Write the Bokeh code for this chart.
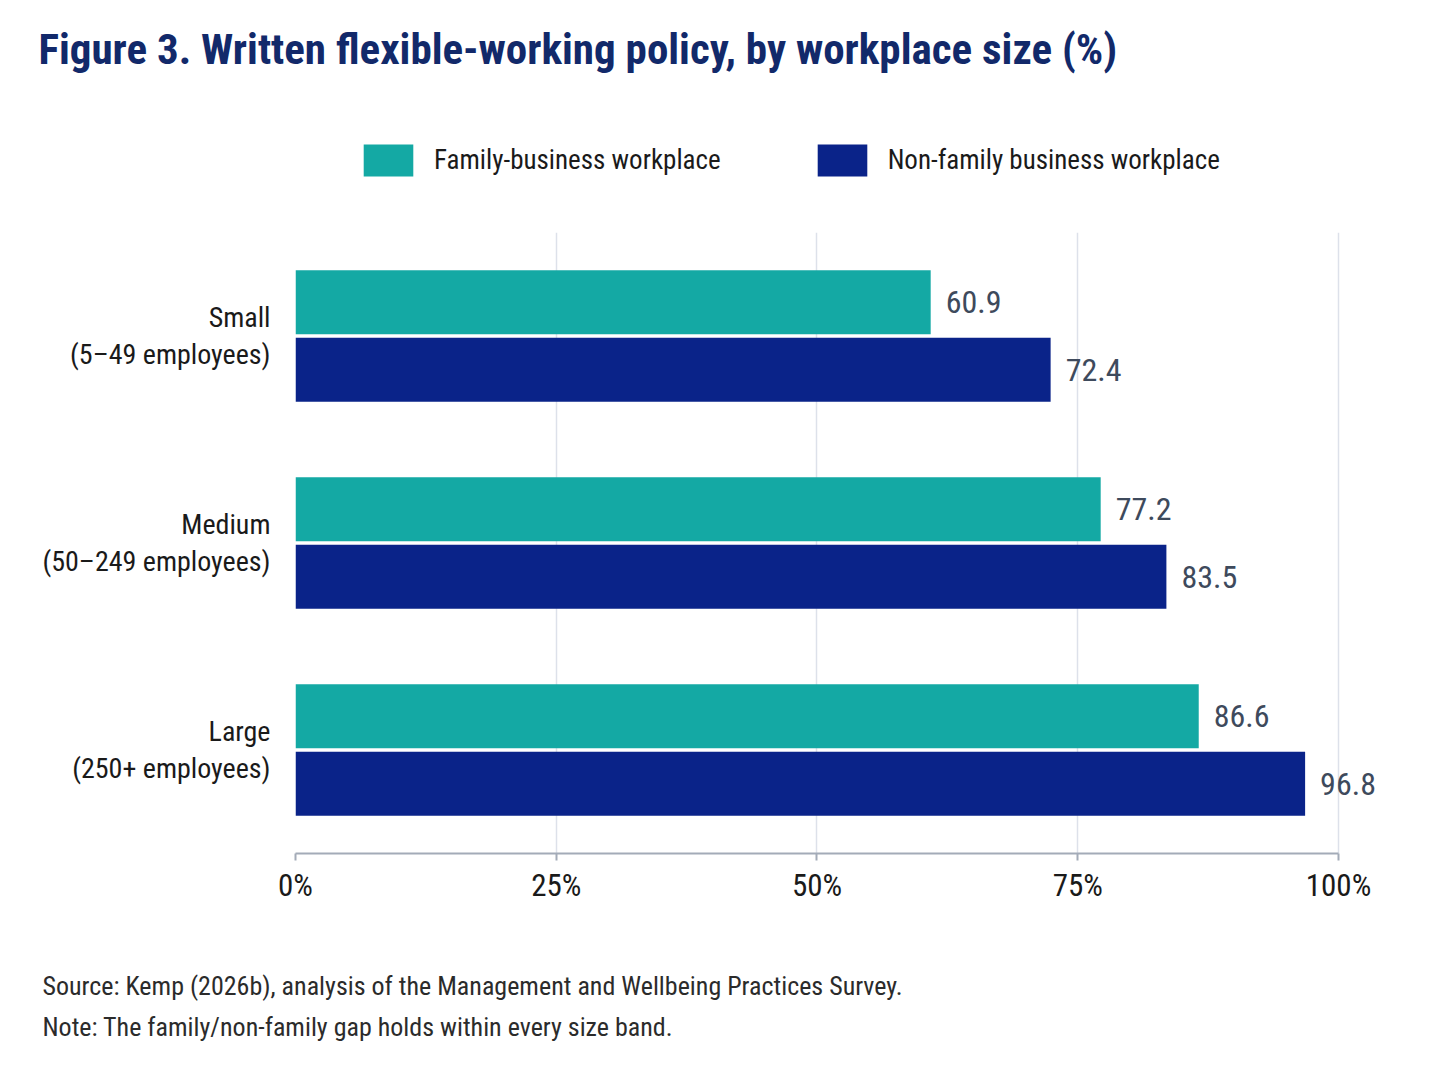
from bokeh.plotting import figure
from bokeh.models import (ColumnDataSource, FactorRange, Range1d, Label, LabelSet, Legend,
                          LegendItem, FixedTicker, PrintfTickFormatter)
from bokeh.core.properties import value
from bokeh.transform import dodge
from bokeh.embed import file_html
from bokeh.resources import INLINE

# ---- data ----
categories = ["Small", "Medium", "Large"]
size_bands = ["5–49 employees", "50–249 employees", "250+ employees"]
family = [60.9, 77.2, 86.6]
non_family = [72.4, 83.5, 96.8]
series_names = ["Family-business workplace", "Non-family business workplace"]
x_ticks = [0, 25, 50, 75, 100]

title_text = "Figure 3. Written flexible-working policy, by workplace size (%)"
source_text = "Source: Kemp (2026b), analysis of the Management and Wellbeing Practices Survey."
note_text = "Note: The family/non-family gap holds within every size band."

FONT = "Roboto Condensed"
TEAL = "#14a9a4"
NAVY = "#0a2389"
TITLE_COL = "#12296a"
NOTE_COL = "#2b2b2b"

# ---- layout (pixels) ----
W = 1440
TOP_H = 232            # header strip (title + legend)
LEFT = 295
FW = int(round(1043 * 1.07))
RIGHT = W - LEFT - FW
FH = 621
AX_H = 90
MAIN_H = FH + AX_H
BOT_H = 1078 - TOP_H - MAIN_H

labels = [f"{c}\n({b})" for c, b in zip(categories, size_bands)]
src = ColumnDataSource(dict(
    cat=labels,
    family=family,
    non_family=non_family,
    family_lbl=[f"{v:.1f}" for v in family],
    non_family_lbl=[f"{v:.1f}" for v in non_family],
))


def strip(h):
    f = figure(width=W, height=h, output_backend="svg", toolbar_location=None,
               x_range=Range1d(0, W), y_range=Range1d(h, 0),
               x_axis_type=None, y_axis_type=None, min_border=0, title_location=None)
    f.outline_line_color = None
    f.grid.visible = False
    f.border_fill_color = "white"
    f.background_fill_color = "white"
    return f


# ---- header: title + legend ----
ph = strip(TOP_H)
ph.add_layout(Label(x=38, y=48, text=title_text, text_font=FONT, text_font_style="bold",
                    text_font_size="43px", text_color=TITLE_COL, text_baseline="alphabetic",
                    text_align="left"))
# legend keys (renderers hidden in this strip; they only provide the swatches)
k1 = ph.hbar(y=0, right="family", height=1, source=src, fill_color=TEAL, line_color=None,
             visible=False)
k2 = ph.hbar(y=0, right="non_family", height=1, source=src, fill_color=NAVY, line_color=None,
             visible=False)
legend = Legend(items=[LegendItem(label=series_names[0], renderers=[k1], index=0),
                       LegendItem(label=series_names[1], renderers=[k2], index=0)],
                orientation="horizontal", location=(357, TOP_H - 180),
                glyph_width=62, glyph_height=40, label_height=40, label_standoff=15,
                spacing=90, padding=0, margin=0, border_line_color=None,
                background_fill_alpha=0, inactive_fill_alpha=0, label_text_font=FONT,
                label_text_font_size="27px", label_text_color="#1a1a1a")
ph.add_layout(legend, "center")

# ---- main chart ----
p = figure(width=W, height=MAIN_H, output_backend="svg", toolbar_location=None,
           y_range=FactorRange(factors=labels[::-1], range_padding=0),
           x_range=(0, 107), title_location=None,
           min_border_left=LEFT, min_border_right=RIGHT,
           min_border_top=0, min_border_bottom=AX_H)
p.outline_line_color = None
p.background_fill_color = "white"
p.border_fill_color = "white"

p.hbar(y=dodge("cat", 0.163, range=p.y_range), right="family", left=0, height=0.31,
       source=src, fill_color=TEAL, line_color=None)
p.hbar(y=dodge("cat", -0.163, range=p.y_range), right="non_family", left=0, height=0.31,
       source=src, fill_color=NAVY, line_color=None)

for col, off in (("family", 0.163), ("non_family", -0.163)):
    p.add_layout(LabelSet(x=col, y=dodge("cat", off, range=p.y_range), text=col + "_lbl",
                          source=src, x_offset=15, text_align="left", text_baseline="middle",
                          text_font=value(FONT), text_font_size=value("32px"),
                          text_color=value("#3e4a5c")))

xa = p.xaxis[0]
xa.ticker = FixedTicker(ticks=x_ticks)
xa.formatter = PrintfTickFormatter(format="%d%%")
xa.bounds = (0, 100)
xa.axis_line_color = "#a3abb8"
xa.axis_line_width = 2
xa.major_tick_line_color = "#a3abb8"
xa.major_tick_line_width = 2
xa.major_tick_in = 0
xa.major_tick_out = 7
xa.minor_tick_line_color = None
xa.major_label_text_font = FONT
xa.major_label_text_font_size = "31px"
xa.major_label_text_color = "#1a1a1a"
xa.major_label_standoff = 6

ya = p.yaxis[0]
ya.axis_line_color = None
ya.major_tick_line_color = None
ya.minor_tick_line_color = None
ya.major_label_text_font = FONT
ya.major_label_text_font_size = "28px"
ya.major_label_text_color = "#1a1a1a"
ya.major_label_text_line_height = 1.12
ya.major_label_standoff = 19

p.xgrid.grid_line_color = "#dde1ea"
p.xgrid.grid_line_width = 1.5
p.xgrid.ticker = FixedTicker(ticks=x_ticks)
p.ygrid.grid_line_color = None

# ---- footer: source + note ----
pf = strip(BOT_H)
top_of_footer = TOP_H + MAIN_H
for txt, base in ((source_text, 985), (note_text, 1026)):
    pf.add_layout(Label(x=42, y=base - top_of_footer, text=txt, text_font=FONT,
                        text_font_size="26px", text_color=NOTE_COL,
                        text_baseline="alphabetic", text_align="left"))

open("out.html", "w").write(file_html([ph, p, pf], INLINE))
